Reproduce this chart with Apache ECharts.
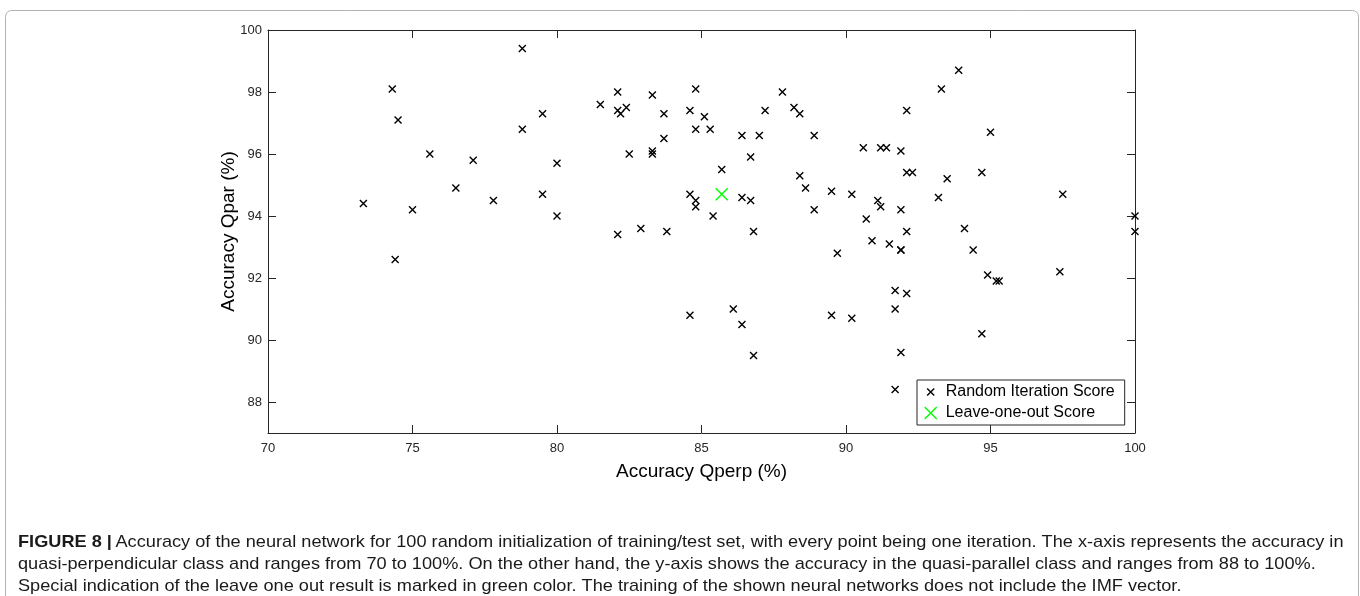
<!DOCTYPE html>
<html>
<head>
<meta charset="utf-8">
<script src="https://cdn.jsdelivr.net/npm/echarts@6/dist/echarts.min.js"></script>
<style>
html,body{margin:0;padding:0;background:#fff;}
#chart{width:1360px;height:596px;}
</style>
</head>
<body>
<div id="chart"></div>
<script>
// Random iteration scores: [Qperp %, Qpar %]
const randomQperp = [73.3,74.3,74.5,74.4,75.0,75.6,76.5,77.1,77.8,78.8,78.8,79.5,79.5,80.0,80.0,81.5,82.1,82.1,82.2,82.4,82.5,82.1,82.9,83.3,83.3,83.3,83.7,83.7,83.8,84.6,84.8,85.1,84.8,85.3,84.6,84.8,84.8,85.4,84.6,85.7,86.4,87.0,86.7,86.4,86.7,86.8,86.1,86.4,86.8,87.2,87.8,88.2,88.4,88.9,88.4,88.6,88.9,89.5,89.7,89.5,90.2,90.2,90.6,90.7,90.9,91.1,91.2,91.2,91.4,91.5,91.7,91.7,91.7,91.9,91.9,91.9,91.9,91.9,92.1,92.1,92.3,92.1,92.1,93.2,93.3,93.5,93.9,94.1,94.4,94.7,94.7,94.9,95.0,95.2,95.3,97.5,97.4,100,100];
const randomQpar  = [94.4,98.1,97.1,92.6,94.2,96.0,94.9,95.8,94.5,99.4,96.8,97.3,94.7,95.7,94.0,97.6,98.0,97.4,97.3,97.5,96.0,93.4,93.6,97.9,96.1,96.0,97.3,96.5,93.5,97.4,98.1,97.2,96.8,96.8,94.7,94.5,94.3,94.0,90.8,95.5,96.6,96.6,95.9,94.6,94.5,93.5,91.0,90.5,89.5,97.4,98.0,97.5,97.3,96.6,95.3,94.9,94.2,94.8,92.8,90.8,94.7,90.7,96.2,93.9,93.2,94.5,94.3,96.2,96.2,93.1,91.6,91.0,88.4,96.1,94.2,92.9,92.9,89.6,97.4,95.4,95.4,93.5,91.5,94.6,98.1,95.2,98.7,93.6,92.9,95.4,90.2,92.1,96.7,91.9,91.9,94.7,92.2,94.0,93.5];
// Leave-one-out score
const looQperp = [85.7];
const looQpar  = [94.7];

const xTicks = [70,75,80,85,90,95,100];
const yTicks = [88,90,92,94,96,98,100];
const seriesNames = ['Random Iteration Score','Leave-one-out Score'];
const captionLabel = 'FIGURE 8 |';
const captionLines = [
  'Accuracy of the neural network for 100 random initialization of training/test set, with every point being one iteration. The x-axis represents the accuracy in',
  'quasi-perpendicular class and ranges from 70 to 100%. On the other hand, the y-axis shows the accuracy in the quasi-parallel class and ranges from 88 to 100%.',
  'Special indication of the leave one out result is marked in green color. The training of the shown neural networks does not include the IMF vector.'
];

const randomData = randomQperp.map((x,i)=>[x, randomQpar[i]]);
const looData = looQperp.map((x,i)=>[x, looQpar[i]]);

const X_PATH = 'path://M0,0L10,10M10,0L0,10';
const X_PATH_SMALL = 'path://M-3.5,-3.5M13.5,13.5M0,0L10,10M10,0L0,10';
const AX = '#262626';
const FONT = '"Liberation Sans", Arial, Helvetica, sans-serif';

// caption horizontal fit (text spans the box width)
const CAP_SIZE = 17;
const capFont = CAP_SIZE + 'px "Liberation Sans", Arial, sans-serif';
const capFontB = 'bold ' + capFont;
const mctx = document.createElement('canvas').getContext('2d');
mctx.font = capFontB; const wB = mctx.measureText(captionLabel + ' ').width;
mctx.font = capFont;  const wN = mctx.measureText(captionLines[0]).width;
const capScale = 1327 / (wB + wN);

const chart = echarts.init(document.getElementById('chart'), null, {renderer:'canvas'});

const baseX = {
  type:'value', min:70, max:100, interval:5,
  axisLine:{show:true, onZero:false, lineStyle:{color:AX, width:1}},
  axisTick:{show:true, inside:true, length:8, lineStyle:{color:AX}},
  splitLine:{show:false}
};
const baseY = {
  type:'value', min:87, max:100,
  axisLine:{show:true, onZero:false, lineStyle:{color:AX, width:1}},
  axisTick:{show:true, inside:true, length:8, lineStyle:{color:AX}, customValues:yTicks},
  splitLine:{show:false}
};

chart.setOption({
  animation:false,
  backgroundColor:'#fff',
  textStyle:{fontFamily:FONT},
  grid:{left:268, right:225, top:30, bottom:163, containLabel:false},
  xAxis:[
    Object.assign({}, baseX, {
      position:'bottom',
      name:'Accuracy Qperp (%)', nameLocation:'middle', nameGap:29, nameMoveOverlap:false,
      nameTextStyle:{fontSize:19, color:'#000', fontFamily:FONT},
      axisLabel:{show:true, color:AX, fontSize:13, margin:9, fontFamily:FONT,
        customValues:xTicks}
    }),
    Object.assign({}, baseX, {position:'top', axisLabel:{show:false}})
  ],
  yAxis:[
    Object.assign({}, baseY, {
      position:'left',
      name:'Accuracy Qpar (%)', nameLocation:'middle', nameGap:30, nameRotate:90, nameMoveOverlap:false,
      nameTextStyle:{fontSize:19, color:'#000', fontFamily:FONT},
      axisLabel:{show:true, color:AX, fontSize:13, margin:6, fontFamily:FONT,
        customValues:yTicks}
    }),
    Object.assign({}, baseY, {position:'right', axisLabel:{show:false}})
  ],
  legend:{
    show:true, orient:'vertical', left:917, top:380,
    backgroundColor:'#fff', borderColor:AX, borderWidth:1, borderRadius:0,
    padding:[4,10,4,7], itemWidth:20, itemHeight:12, itemGap:5,
    textStyle:{fontSize:16, color:'#000', fontFamily:FONT},
    data:[
      {name:seriesNames[0], icon:X_PATH_SMALL,
        itemStyle:{color:'transparent', borderColor:'#000', borderWidth:1.4}},
      {name:seriesNames[1], icon:X_PATH,
        itemStyle:{color:'transparent', borderColor:'#00ff00', borderWidth:1.4}}
    ]
  },
  series:[
    {
      name:seriesNames[0], type:'scatter', xAxisIndex:0, yAxisIndex:0,
      symbol:X_PATH, symbolSize:7,
      itemStyle:{color:'transparent', borderColor:'#000', borderWidth:1.4, opacity:1},
      emphasis:{disabled:true},
      data:randomData, z:3
    },
    {
      name:seriesNames[1], type:'scatter', xAxisIndex:0, yAxisIndex:0,
      symbol:X_PATH, symbolSize:12,
      itemStyle:{color:'transparent', borderColor:'#00ff00', borderWidth:1.4, opacity:1},
      emphasis:{disabled:true},
      data:looData, z:4
    }
  ],
  graphic:[
    {type:'rect', left:3, top:8, silent:true, z:-10,
      shape:{width:1353, height:600, r:6},
      style:{fill:'none', stroke:'#b3b3b3', lineWidth:1}},
    {type:'text', x:18, y:542, scaleX:capScale, silent:true,
      style:{
        text:'{b|' + captionLabel + '} {n|' + captionLines[0] + '}',
        verticalAlign:'middle',
        rich:{
          b:{font:capFontB, fill:'#1a1a1a'},
          n:{font:capFont, fill:'#1a1a1a'}
        }
      }},
    {type:'text', x:18, y:564, scaleX:capScale, silent:true,
      style:{text:captionLines[1], font:capFont, fill:'#1a1a1a', verticalAlign:'middle'}},
    {type:'text', x:18, y:586, scaleX:capScale, silent:true,
      style:{text:captionLines[2], font:capFont, fill:'#1a1a1a', verticalAlign:'middle'}}
  ]
});
</script>
</body>
</html>
